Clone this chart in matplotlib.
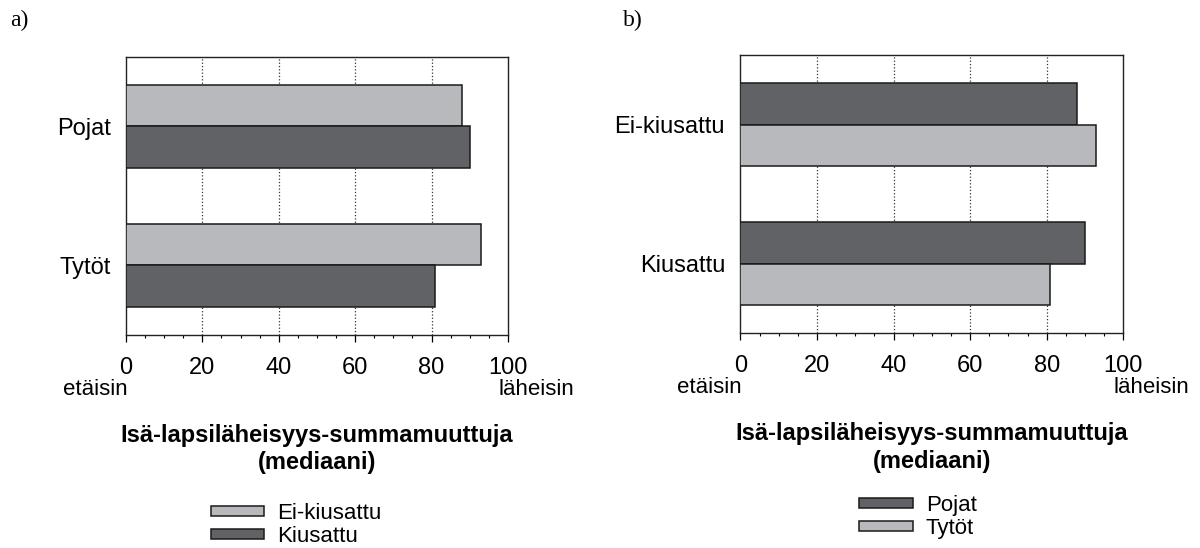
import matplotlib
matplotlib.use("Agg")
import matplotlib.pyplot as plt
from matplotlib.patches import Patch
from matplotlib.ticker import MultipleLocator
import numpy as np

plt.rcParams['font.family'] = ['Liberation Sans', 'DejaVu Sans']

# data
groups_a = ['Pojat', 'Tytöt']
ei_kiusattu = [88, 93]
kiusattu = [90, 81]

groups_b = ['Ei-kiusattu', 'Kiusattu']
pojat = [88, 90]
tytot = [93, 81]

xticks = [0, 20, 40, 60, 80, 100]
xlabel = 'Isä-lapsiläheisyys-summamuuttuja\n(mediaani)'
low_end = 'etäisin'
high_end = 'läheisin'

light = '#b8b9bc'
dark = '#616266'
edge = '#1a1a1a'

fig = plt.figure(figsize=(12, 5.48), dpi=100)
ax_a = fig.add_axes([0.105, 0.3887, 0.3183, 0.5073])
ax_b = fig.add_axes([0.617, 0.392, 0.319, 0.5073])


def draw_panel(ax, groups, top_vals, bottom_vals, top_col, bottom_col, labels, leg_xy):
    y = np.arange(len(groups))
    h = 0.3
    ax.barh(y - h / 2, top_vals, height=h, color=top_col, edgecolor=edge,
            linewidth=1.1, zorder=3, label=labels[0])
    ax.barh(y + h / 2, bottom_vals, height=h, color=bottom_col, edgecolor=edge,
            linewidth=1.1, zorder=3, label=labels[1])
    ax.set_xlim(0, 100)
    ax.set_ylim(1.5, -0.5)
    ax.set_yticks(y)
    ax.set_yticklabels(groups, fontsize=17)
    ax.tick_params(axis='y', length=0, pad=11)
    ax.set_xticks(xticks)
    ax.set_xticklabels([str(t) for t in xticks], fontsize=17)
    ax.xaxis.set_minor_locator(MultipleLocator(5))
    ax.tick_params(axis='x', which='major', direction='out', length=5, width=0.9, pad=11)
    ax.tick_params(axis='x', which='minor', direction='out', length=2.5, width=0.8)
    for xv in xticks[1:-1]:
        ax.axvline(xv, color='#333333', linestyle=':', linewidth=0.9, zorder=1)
    for s in ax.spines.values():
        s.set_linewidth(1.0)
        s.set_color('#222222')
    ax.annotate(low_end, xy=(0, 0), xycoords=('data', 'axes fraction'),
                xytext=(1, -39), textcoords='offset points',
                ha='right', va='center', fontsize=16)
    ax.annotate(high_end, xy=(97.5, 0), xycoords=('data', 'axes fraction'),
                xytext=(0, -39), textcoords='offset points',
                ha='left', va='center', fontsize=16)
    ax.text(0.5, -0.32, xlabel, transform=ax.transAxes, ha='center', va='top',
            fontsize=17, fontweight='bold', linespacing=1.25)
    handles = [Patch(facecolor=top_col, edgecolor=edge, linewidth=1.1),
               Patch(facecolor=bottom_col, edgecolor=edge, linewidth=1.1)]
    fig.legend(handles, labels, loc='center', bbox_to_anchor=leg_xy,
               frameon=False, fontsize=16, handlelength=2.4, handleheight=0.35,
               handletextpad=0.6, labelspacing=0.08, borderpad=0)


draw_panel(ax_a, groups_a, ei_kiusattu, kiusattu, light, dark,
           ['Ei-kiusattu', 'Kiusattu'], (296 / 1200, 1 - 525 / 548))
draw_panel(ax_b, groups_b, pojat, tytot, dark, light,
           ['Pojat', 'Tytöt'], (918 / 1200, 1 - 517 / 548))

fig.text(10 / 1200, 1 - 20 / 548, 'a)', fontsize=17, family='Liberation Serif',
         ha='left', va='center')
fig.text(623 / 1200, 1 - 20 / 548, 'b)', fontsize=17, family='Liberation Serif',
         ha='left', va='center')

fig.savefig('out.png', dpi=100)
